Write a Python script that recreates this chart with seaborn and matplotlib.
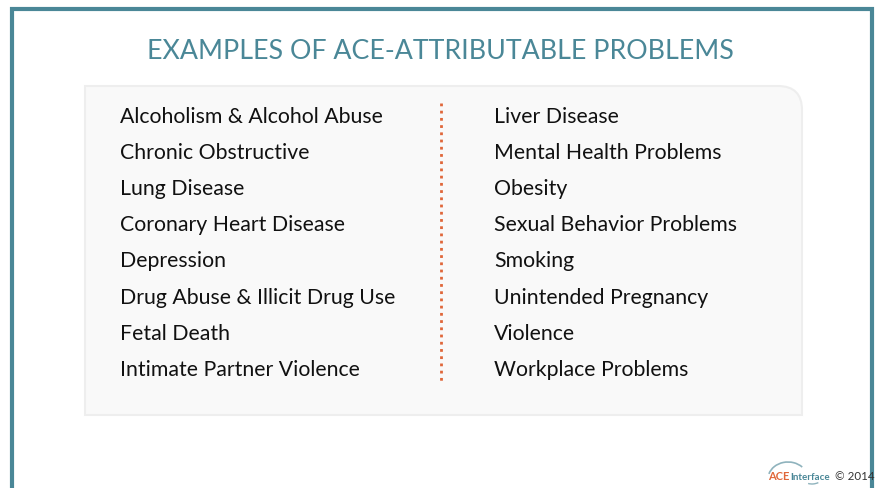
import matplotlib
matplotlib.use("Agg")
import matplotlib.pyplot as plt
from matplotlib.path import Path
from matplotlib.patches import PathPatch, Arc
import pandas as pd
import seaborn as sns

title = "EXAMPLES OF ACE-ATTRIBUTABLE PROBLEMS"
left_items = [
    "Alcoholism & Alcohol Abuse",
    "Chronic Obstructive",
    "Lung Disease",
    "Coronary Heart Disease",
    "Depression",
    "Drug Abuse & Illicit Drug Use",
    "Fetal Death",
    "Intimate Partner Violence",
]
right_items = [
    "Liver Disease",
    "Mental Health Problems",
    "Obesity",
    "Sexual Behavior Problems",
    "Smoking",
    "Unintended Pregnancy",
    "Violence",
    "Workplace Problems",
]
footer = "© 2014"

TEAL = "#4a8797"
ORANGE = "#e0673a"
FONT = "Lato"

sns.set_theme(style="white")
plt.rcParams['font.family'] = [FONT, 'DejaVu Sans']

W, H = 876, 489
fig = plt.figure(figsize=(W / 100, H / 100), dpi=100)
ax = fig.add_axes([0, 0, 1, 1])

# teal frame (open at the bottom)
ax.plot([12, 12, 871.5, 871.5], [H + 5, 10, 10, H + 5], color=TEAL, lw=3, solid_joinstyle="miter")

# light panel with one rounded corner (top-right)
x0, y0, x1, y1, r = 85, 87, 802, 416, 24
verts = [(x0, y0), (x1 - r, y0), (x1, y0), (x1, y0 + r), (x1, y1), (x0, y1), (x0, y0)]
codes = [Path.MOVETO, Path.LINETO, Path.CURVE3, Path.CURVE3, Path.LINETO, Path.LINETO, Path.CLOSEPOLY]
ax.add_patch(PathPatch(Path(verts, codes), facecolor="#f9f9f9", edgecolor="#eeeeee", lw=1.5))

ax.text(440, 59, title, color=TEAL, fontsize=19.3, ha="center", va="baseline")

row0, step = 123, 36.1
for i, (a, b) in enumerate(zip(left_items, right_items)):
    y = row0 + i * step
    ax.text(120, y, a, color="#111111", fontsize=15.3, ha="left", va="baseline")
    ax.text(494, y, b, color="#111111", fontsize=15.3, ha="left", va="baseline")

# dotted divider
div = pd.DataFrame({"x": [441, 441], "y": [104, 385]})
sns.lineplot(data=div, x="x", y="y", ax=ax, color=ORANGE, lw=2, linestyle=(0, (1, 1.6)),
             sort=False, estimator=None)
ax.set_xlim(0, W)
ax.set_ylim(H, 0)
ax.axis("off")

# logo (y axis is inverted, so the upper arc uses angles 180..360)
ax.add_patch(Arc((788, 480), 40, 34, theta1=195, theta2=320, color="#8fb3bd", lw=1.2))
ax.add_patch(Arc((812, 470), 30, 30, theta1=65, theta2=105, color="#8fb3bd", lw=1.0))
ax.text(768, 480, "ACE", color=ORANGE, fontsize=8, fontweight="bold", ha="left", va="baseline")
ax.text(790, 480, "Interface", color=TEAL, fontsize=7, fontweight="bold", ha="left", va="baseline")
ax.text(835, 480, footer, color="#333333", fontsize=8.3, ha="left", va="baseline")

fig.savefig("out.png", dpi=100)
